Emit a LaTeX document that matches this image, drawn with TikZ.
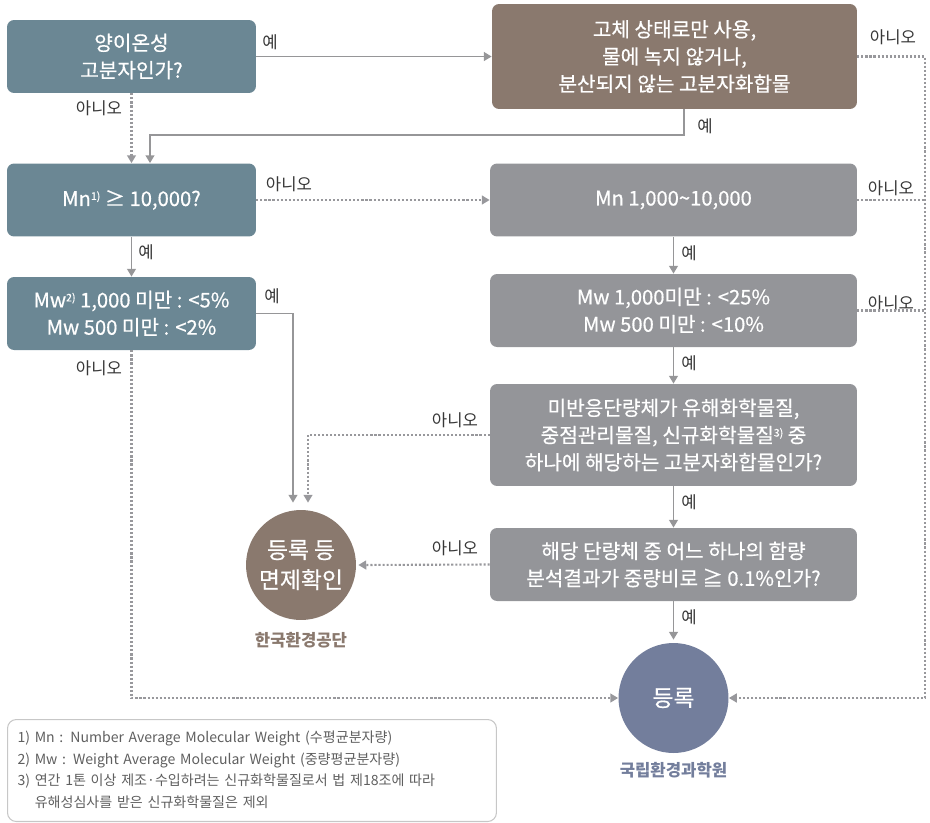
\documentclass[tikz,border=0pt]{standalone}
\usepackage{fontspec}
\setmainfont{Noto Sans CJK KR}
\newfontfamily\medfont[FakeBold=0.5]{Noto Sans CJK KR}
\usetikzlibrary{arrows.meta}
\definecolor{boxteal}{RGB}{107,135,148}
\definecolor{boxbrown}{RGB}{138,121,110}
\definecolor{boxgray}{RGB}{148,149,153}
\definecolor{circblue}{RGB}{115,126,156}
\definecolor{linegray}{RGB}{150,150,152}
\definecolor{dotgray}{RGB}{152,152,156}
\definecolor{labgray}{RGB}{55,55,55}
\definecolor{notegray}{RGB}{95,95,95}
\newcommand{\fnmark}[1]{\raisebox{0.55ex}{\fontsize{6}{6}\selectfont #1}}

\begin{document}
\begin{tikzpicture}[x=0.02cm, y=-0.02cm,
  box/.style={rectangle, rounded corners=4pt, text=white, align=center, inner sep=0pt, font=\medfont\fontsize{11.5}{15.5}\selectfont},
  smallbox/.style={box, fill=boxteal, minimum width=4.98cm, minimum height=1.46cm},
  widebox/.style={box, fill=boxgray, minimum width=7.34cm, minimum height=1.46cm},
  endpt/.style={circle, minimum size=2.2cm, inner sep=0pt, text=white, align=center, font=\medfont\fontsize{13}{17}\selectfont},
  ans/.style={text=labgray, inner sep=0pt, font=\fontsize{9.5}{10}\selectfont},
  agency/.style={inner sep=0pt, font=\bfseries\fontsize{9.5}{11}\selectfont},
  yes/.style={draw=linegray, line width=1.1pt, -{Triangle[length=4.5pt,width=5pt]}},
  no/.style={draw=dotgray, line width=1.2pt, dash pattern=on 1.2pt off 1.1pt, -{Triangle[length=4.5pt,width=5pt]}},
  noline/.style={draw=dotgray, line width=1.2pt, dash pattern=on 1.2pt off 1.1pt},
  notes/.style={draw=notegray!35, line width=0.6pt, rounded corners=5pt, text=notegray, align=left, text width=9.38cm, minimum height=2.04cm, inner xsep=0.2cm, inner ysep=0pt, font=\fontsize{8}{12.2}\selectfont}]
  \useasboundingbox (0,0) rectangle (930,822);
  \node[smallbox] (A) at (131.5,56.5) {양이온성\\고분자인가?};
  \node[box, fill=boxbrown, minimum width=7.3cm, minimum height=2.1cm] (B) at (674.5,56.5) {고체 상태로만 사용,\\물에 녹지 않거나,\\분산되지 않는 고분자화합물};
  \node[smallbox] (C) at (131.5,200) {Mn\fnmark{1)} ≥ 10,000?};
  \node[smallbox] (D) at (131.5,313.5) {Mw\fnmark{2)} 1,000 미만 : <5\%\\Mw 500 미만 : <2\%};
  \node[widebox] (E) at (673.5,200) {Mn 1,000\textasciitilde10,000};
  \node[widebox] (F) at (673.5,310.5) {Mw 1,000미만 : <25\%\\Mw 500 미만 : <10\%};
  \node[widebox, minimum height=2.04cm] (G) at (673.5,435) {미반응단량체가 유해화학물질,\\중점관리물질, 신규화학물질\fnmark{3)} 중\\하나에 해당하는 고분자화합물인가?};
  \node[widebox] (H) at (673.5,564.5) {해당 단량체 중 어느 하나의 함량\\분석결과가 중량비로 ≧ 0.1\%인가?};
  \node[endpt, fill=boxbrown] (reg1) at (301,565) {등록 등\\면제확인};
  \node[endpt, fill=circblue] (reg2) at (673.5,698) {등록};
  \node[agency, text=boxbrown] (ag1) at (301,640) {한국환경공단};
  \node[agency, text=circblue] (ag2) at (673.5,770) {국립환경과학원};
  \node[notes, anchor=north west] (fn) at (7,719) {1) Mn : Number Average Molecular Weight (수평균분자량)\\2) Mw : Weight Average Molecular Weight (중량평균분자량)\\3) 연간 1톤 이상 제조·수입하려는 신규화학물질로서 법 제18조에 따라\\\phantom{3) }유해성심사를 받은 신규화학물질은 제외};
  \coordinate (rt) at (925,0);
  % answers
  \node[ans] (y1) at (270,42) {예};
  \node[ans] (n1) at (99,108) {아니오};
  \node[ans] (y2) at (705,126) {예};
  \node[ans] (n2) at (893,37) {아니오};
  \node[ans] (n3) at (289,184) {아니오};
  \node[ans] (n4) at (891,188) {아니오};
  \node[ans] (y3) at (146,252) {예};
  \node[ans] (y4) at (272,296) {예};
  \node[ans] (n5) at (891,303) {아니오};
  \node[ans] (n6) at (99,368) {아니오};
  \node[ans] (y5) at (689,253) {예};
  \node[ans] (y6) at (689,363) {예};
  \node[ans] (n7) at (455,420) {아니오};
  \node[ans] (y7) at (689,502) {예};
  \node[ans] (n8) at (455,548) {아니오};
  \node[ans] (y8) at (689,617) {예};
  % connectors
  \draw[yes] (A.east) -- (B.west);
  \draw[no] (A.south) -- (C.north);
  \draw[yes] ([xshift=0.19cm]B.south) -- ++(0,26) -| ([xshift=0.37cm]C.north);
  \draw[no] (B.east) -- (B.east -| rt) |- (reg2.east);
  \draw[no] (C.east) -- (E.west);
  \draw[noline] (E.east) -- (E.east -| rt);
  \draw[noline] (F.east) -- (F.east -| rt);
  \draw[yes] (C.south) -- (D.north);
  \draw[yes, shorten >=0.14cm] (D.east) -| ([xshift=-0.16cm]reg1.north);
  \draw[no] (D.south) |- (reg2.west);
  \draw[yes] (E.south) -- (F.north);
  \draw[yes] (F.south) -- (G.north);
  \draw[no, shorten >=0.14cm] (G.west) -| ([xshift=0.14cm]reg1.north);
  \draw[yes] (G.south) -- (H.north);
  \draw[no, shorten >=0.04cm] (H.west) -- (reg1.east);
  \draw[yes, shorten >=0.06cm] (H.south) -- (reg2.north);
\end{tikzpicture}
\end{document}
